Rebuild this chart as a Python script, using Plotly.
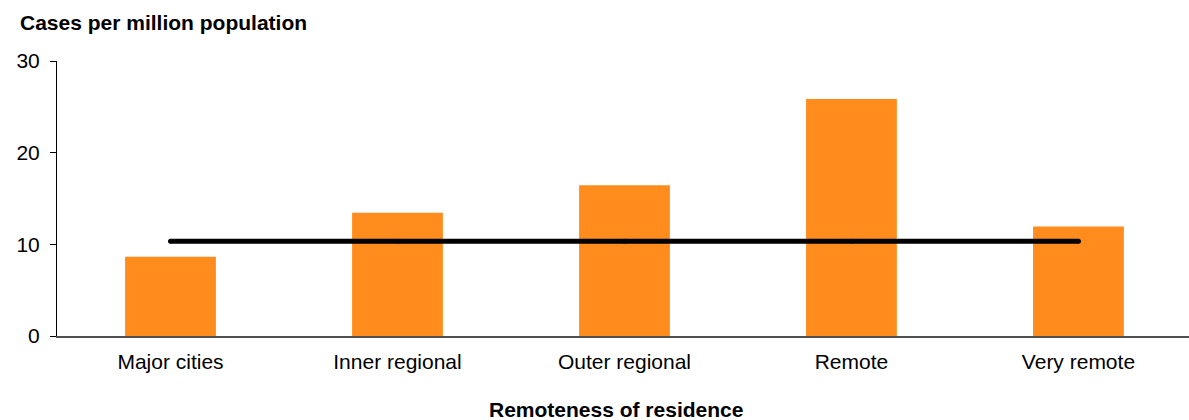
import plotly.graph_objects as go

# Remoteness categories and rates (cases per million population)
categories = ["Major cities", "Inner regional", "Outer regional", "Remote", "Very remote"]
rates = [8.65, 13.45, 16.45, 25.85, 11.95]
national_rate = 10.35
y_ticks = [0, 10, 20, 30]

FONT = "Liberation Sans, Arial, sans-serif"
BAR_COLOR = "#FF8C1C"
FS = 21

fig = go.Figure()

fig.add_trace(go.Bar(
    x=categories,
    y=rates,
    marker=dict(color=BAR_COLOR, line=dict(width=0)),
    width=0.4,
    showlegend=False,
    hoverinfo="x+y",
))

# National average drawn as a flat line across all categories
fig.add_trace(go.Scatter(
    x=categories,
    y=[national_rate] * len(categories),
    mode="lines+markers",
    line=dict(color="#000000", width=5),
    marker=dict(color="#000000", size=5),
    showlegend=False,
))

fig.update_layout(
    width=1189,
    height=420,
    margin=dict(l=57, r=0, t=61, b=84),
    paper_bgcolor="white",
    plot_bgcolor="white",
    font=dict(family=FONT, size=FS, color="#000000"),
    bargap=0.6,
    xaxis=dict(
        type="category",
        range=[-0.5, 4.487],
        showline=True,
        linecolor="#505050",
        linewidth=1.5,
        ticks="",
        showgrid=False,
        zeroline=False,
        tickfont=dict(family=FONT, size=FS),
        ticklabelstandoff=6,
    ),
    yaxis=dict(
        range=[0, 30],
        tickvals=y_ticks,
        showline=True,
        linecolor="#000000",
        linewidth=1,
        ticks="outside",
        ticklen=6,
        tickcolor="#000000",
        showgrid=False,
        zeroline=False,
        tickfont=dict(family=FONT, size=FS),
        ticklabelstandoff=6,
    ),
    annotations=[
        dict(
            text="<b>Cases per million population</b>",
            xref="paper", yref="paper",
            x=(18 - 57) / 1132, y=1,
            xanchor="left", yanchor="middle",
            yshift=39,
            showarrow=False,
            font=dict(family=FONT, size=FS, color="#000000"),
        ),
        dict(
            text="<b>Remoteness of residence</b>",
            xref="paper", yref="paper",
            x=(616 - 57) / 1132, y=0,
            xanchor="center", yanchor="middle",
            yshift=-73,
            showarrow=False,
            font=dict(family=FONT, size=FS, color="#000000"),
        ),
    ],
)

fig.write_html("out.html")
